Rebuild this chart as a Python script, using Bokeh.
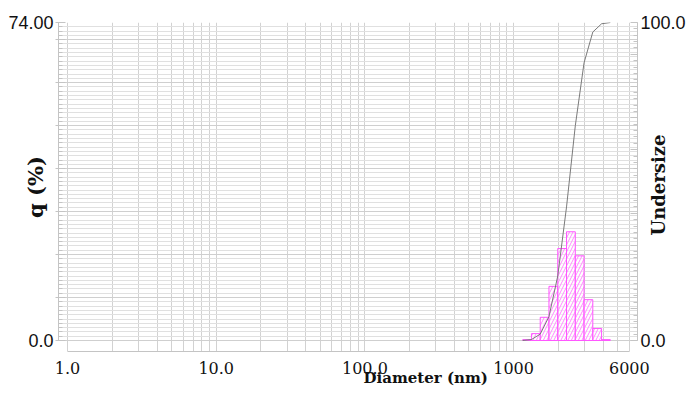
import math
from bokeh.plotting import figure
from bokeh.models import Range1d, LinearAxis, FixedTicker, Grid, Title
from bokeh.embed import file_html
from bokeh.resources import INLINE

# ---- data ----
bin_left = [1151, 1318, 1510, 1729, 1981, 2269, 2599, 2976, 3409, 3905]
bin_right = [1318, 1510, 1729, 1981, 2269, 2599, 2976, 3409, 3905, 4472]
q_percent = [0.2, 1.6, 5.4, 12.6, 21.4, 25.3, 19.7, 9.5, 2.8, 0.2]

curve_diam = [1151, 1318, 1510, 1729, 1981, 2269, 2599, 2976, 3409, 3905, 4472]
undersize = [0.0, 0.3, 2.0, 7.5, 20.3, 42.0, 67.5, 87.3, 97.0, 99.6, 100.0]

x_ticks = [1, 10, 100, 1000, 6000]
x_tick_labels = ["1.0", "10.0", "100.0", "1000", "6000"]
q_ticks = [0, 74]
q_tick_labels = ["0.0", "74.00"]
u_ticks = [0, 100]
u_tick_labels = ["0.0", "100.0"]

# grid positions (log minor positions and 1-unit steps)
grid_x = [m * 10 ** e for e in range(0, 4) for m in range(1, 10)]
grid_q_minor = list(range(0, 75))
grid_q_major = list(range(0, 75, 10))

AX = "#c4c4c4"
TXT = "#111111"
SANS = "'Liberation Sans'"
SERIF = "'DejaVu Serif'"

p = figure(width=689, height=410, x_axis_type="log",
           x_range=Range1d(0.87, 6810), y_range=Range1d(-2.56, 74),
           output_backend="svg", toolbar_location=None,
           min_border_left=58, min_border_right=52, min_border_top=22, min_border_bottom=59)
p.outline_line_color = None
p.background_fill_color = "white"
p.extra_y_ranges = {"u": Range1d(-3.46, 100)}

# grids
p.xgrid.ticker = FixedTicker(ticks=grid_x)
p.xgrid.grid_line_color = "#d2d2d2"
p.ygrid.ticker = FixedTicker(ticks=grid_q_minor)
p.ygrid.grid_line_color = "#e0e0e0"
p.add_layout(Grid(dimension=1, ticker=FixedTicker(ticks=grid_q_major), grid_line_color="#cfcfcf"))

# bottom axis
xa = p.xaxis[0]
xa.ticker = FixedTicker(ticks=x_ticks, minor_ticks=[])
xa.major_label_overrides = dict(zip(x_ticks, x_tick_labels))
xa.bounds = (1, 6000)
xa.axis_line_color = AX
xa.major_tick_in = 0
xa.major_tick_out = 0
xa.minor_tick_in = 0
xa.minor_tick_out = 0
xa.major_label_standoff = 10
xa.major_label_text_font = SERIF
xa.major_label_text_font_size = "16px"
xa.major_label_text_color = TXT

# left axis
ya = p.yaxis[0]
ya_major = grid_q_major + [74]
ya.ticker = FixedTicker(ticks=ya_major, minor_ticks=grid_q_minor)
ya.major_label_overrides = {t: "" for t in ya_major}
ya.major_label_overrides.update(dict(zip(q_ticks, q_tick_labels)))
ya.bounds = (0, 74)
ya.axis_line_color = AX
ya.major_tick_line_color = AX
ya.minor_tick_line_color = AX
ya.major_tick_in = 7
ya.major_tick_out = 3
ya.minor_tick_in = 4
ya.minor_tick_out = 0
ya.major_label_standoff = 2
ya.major_label_text_font = SANS
ya.major_label_text_font_size = "18px"
ya.major_label_text_color = TXT
ya.axis_label = "q (%)"
ya.axis_label_text_font = SERIF
ya.axis_label_text_font_style = "bold"
ya.axis_label_text_font_size = "21px"
ya.axis_label_text_color = TXT
ya.axis_label_standoff = -43

# right axis
u_major = list(range(0, 101, 10))
ra = LinearAxis(y_range_name="u",
                ticker=FixedTicker(ticks=u_major, minor_ticks=list(range(0, 101, 2))))
ra.major_label_overrides = {t: "" for t in u_major}
ra.major_label_overrides.update(dict(zip(u_ticks, u_tick_labels)))
ra.bounds = (0, 100)
ra.axis_line_color = AX
ra.major_tick_line_color = AX
ra.minor_tick_line_color = AX
ra.major_tick_in = 7
ra.major_tick_out = 0
ra.minor_tick_in = 4
ra.minor_tick_out = 0
ra.major_label_standoff = 3
ra.major_label_text_font = SANS
ra.major_label_text_font_size = "18px"
ra.major_label_text_color = TXT
p.add_layout(ra, "right")

# helper right axis: its single rotated tick label is the "Undersize" title
TITLE_AT = 33  # position on the undersize scale where the title starts (bottom end)
ta = LinearAxis(y_range_name="u", ticker=FixedTicker(ticks=[TITLE_AT], minor_ticks=[]))
ta.major_label_overrides = {TITLE_AT: "Undersize"}
ta.major_label_orientation = math.pi / 2
ta.axis_line_color = None
ta.major_tick_line_color = None
ta.major_tick_in = 0
ta.major_tick_out = 0
ta.minor_tick_in = 0
ta.minor_tick_out = 0
ta.major_label_standoff = -30
ta.major_label_text_font = SERIF
ta.major_label_text_font_style = "bold"
ta.major_label_text_font_size = "18px"
ta.major_label_text_color = TXT
p.add_layout(ta, "right")

# x title
p.add_layout(Title(text="Diameter (nm)", align="left", offset=305, vertical_align="top",
                   text_font=SERIF, text_font_style="bold",
                   text_font_size="15px", text_color=TXT, standoff=-16), "below")

# histogram
p.quad(left=bin_left, right=bin_right, bottom=0, top=q_percent,
       fill_color="white", fill_alpha=0.5, line_color="#ff55ff", line_width=1,
       hatch_pattern="/", hatch_color="#ff8cff", hatch_scale=7, hatch_weight=1)

# cumulative curve
p.line(curve_diam, undersize, y_range_name="u", line_color="#7a7a7a", line_width=1)

open("out.html", "w").write(file_html(p, INLINE))
